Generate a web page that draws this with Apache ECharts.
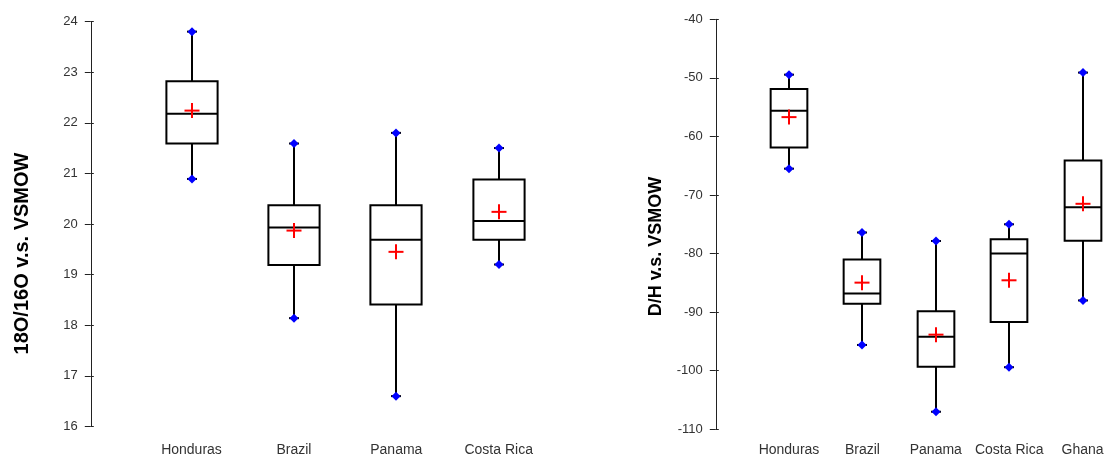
<!DOCTYPE html>
<html>
<head>
<meta charset="utf-8">
<script src="https://cdn.jsdelivr.net/npm/echarts@6/dist/echarts.min.js"></script>
<style>
html,body{margin:0;padding:0;background:#fff;}
#c{width:1104px;height:456px;}
</style>
</head>
<body>
<div id="c"></div>
<script>
// ---- Data ----
const oCategories = ['Honduras', 'Brazil', 'Panama', 'Costa Rica'];
const oMin    = [20.89, 18.14, 16.60, 19.20];
const oQ1     = [21.59, 19.19, 18.41, 19.69];
const oMedian = [22.18, 19.93, 19.69, 20.06];
const oQ3     = [22.82, 20.37, 20.37, 20.88];
const oMax    = [23.80, 21.59, 21.80, 21.50];
const oMean   = [22.24, 19.87, 19.45, 20.24];
const oTicks  = {min: 16, max: 24, interval: 1};

const hCategories = ['Honduras', 'Brazil', 'Panama', 'Costa Rica', 'Ghana'];
const hMin    = [-65.5, -95.6, -107.0, -99.4, -88.0];
const hQ1     = [-61.9, -88.55, -99.3, -91.7, -77.8];
const hMedian = [-55.6, -86.8, -94.2, -80.0, -72.1];
const hQ3     = [-51.9, -81.0, -89.85, -77.56, -64.1];
const hMax    = [-49.45, -76.4, -77.85, -75.0, -49.1];
const hMean   = [-56.7, -84.96, -93.84, -84.56, -71.5];
const hTicks  = {min: -110, max: -40, interval: 10};

function rows(mins, q1s, meds, q3s, maxs, means) {
  return mins.map((v, i) => [i, v, q1s[i], meds[i], q3s[i], maxs[i], means[i]]);
}

function renderBox(params, api) {
  const i = api.value(0);
  const band = api.size([1, 0])[0];
  const half = band * 0.25;
  const pMin = api.coord([i, api.value(1)]);
  const pQ1 = api.coord([i, api.value(2)]);
  const pMed = api.coord([i, api.value(3)]);
  const pQ3 = api.coord([i, api.value(4)]);
  const pMax = api.coord([i, api.value(5)]);
  const pMean = api.coord([i, api.value(6)]);
  const x = Math.round(pMed[0]);
  const lineStyle = {stroke: '#000', lineWidth: 2, fill: null};
  const crossHalf = 7.5;
  const dia = 4.5;
  const diamond = (p) => ({
    type: 'polygon',
    shape: {points: [[x, p[1] - dia], [x + dia, p[1]], [x, p[1] + dia], [x - dia, p[1]]]},
    style: {fill: '#0000ff', stroke: null}
  });
  return {
    type: 'group',
    children: [
      {type: 'line', shape: {x1: x, y1: pMax[1], x2: x, y2: pQ3[1]}, style: lineStyle},
      {type: 'line', shape: {x1: x, y1: pQ1[1], x2: x, y2: pMin[1]}, style: lineStyle},
      {type: 'line', shape: {x1: x - 5, y1: pMax[1], x2: x + 5, y2: pMax[1]}, style: lineStyle},
      {type: 'line', shape: {x1: x - 5, y1: pMin[1], x2: x + 5, y2: pMin[1]}, style: lineStyle},
      {type: 'rect', shape: {x: x - half, y: pQ3[1], width: half * 2, height: pQ1[1] - pQ3[1]},
        style: {stroke: '#000', lineWidth: 2, fill: '#fff'}},
      {type: 'line', shape: {x1: x - half, y1: pMed[1], x2: x + half, y2: pMed[1]}, style: lineStyle},
      diamond(pMax),
      diamond(pMin),
      {type: 'line', shape: {x1: x - crossHalf, y1: pMean[1], x2: x + crossHalf, y2: pMean[1]},
        style: {stroke: '#ff0000', lineWidth: 2}},
      {type: 'line', shape: {x1: x, y1: pMean[1] - crossHalf, x2: x, y2: pMean[1] + crossHalf},
        style: {stroke: '#ff0000', lineWidth: 2}}
    ]
  };
}

const labelFont = 'Liberation Sans, Arial, sans-serif';

function xAxisCfg(cats, gridIndex, margin) {
  return {
    type: 'category', gridIndex: gridIndex, data: cats, boundaryGap: true,
    axisLine: {show: false}, axisTick: {show: false}, splitLine: {show: false},
    axisLabel: {color: '#333', fontSize: 14, fontFamily: labelFont, margin: margin, interval: 0}
  };
}
function yAxisCfg(t, gridIndex, offset) {
  return {
    type: 'value', gridIndex: gridIndex, min: t.min, max: t.max, interval: t.interval,
    offset: offset,
    axisLine: {show: true, lineStyle: {color: '#222', width: 1}},
    axisTick: {show: true, length: 6, lineStyle: {color: '#222', width: 1}},
    splitLine: {show: false},
    axisLabel: {color: '#333', fontSize: 13, fontFamily: labelFont, margin: 13}
  };
}
// inner half of the tick marks (ticks cross the axis line in the reference)
function yAxisInnerTicks(t, gridIndex, offset) {
  return {
    type: 'value', gridIndex: gridIndex, min: t.min, max: t.max, interval: t.interval,
    offset: offset, position: 'left',
    axisLine: {show: false},
    axisTick: {show: true, inside: true, length: 3, lineStyle: {color: '#222', width: 1}},
    splitLine: {show: false},
    axisLabel: {show: false}
  };
}

const chart = echarts.init(document.getElementById('c'), null, {renderer: 'canvas'});
chart.setOption({
  animation: false,
  backgroundColor: '#fff',
  grid: [
    {left: 140.3, top: 21.5, width: 409.6, height: 405, outerBoundsMode: 'none', containLabel: false},
    {left: 752.3, top: 19.3, width: 367, height: 410, outerBoundsMode: 'none', containLabel: false}
  ],
  xAxis: [xAxisCfg(oCategories, 0, 17), xAxisCfg(hCategories, 1, 14)],
  yAxis: [
    yAxisCfg(oTicks, 0, 49.5), yAxisCfg(hTicks, 1, 36.5),
    yAxisInnerTicks(oTicks, 0, 49.5), yAxisInnerTicks(hTicks, 1, 36.5)
  ],
  series: [
    {type: 'custom', xAxisIndex: 0, yAxisIndex: 0, renderItem: renderBox,
      encode: {x: 0, y: [1, 2, 3, 4, 5, 6]},
      data: rows(oMin, oQ1, oMedian, oQ3, oMax, oMean)},
    {type: 'custom', xAxisIndex: 1, yAxisIndex: 1, renderItem: renderBox,
      encode: {x: 0, y: [1, 2, 3, 4, 5, 6]},
      data: rows(hMin, hQ1, hMedian, hQ3, hMax, hMean)}
  ],
  graphic: [
    {type: 'text', x: 22, y: 253.5, rotation: Math.PI / 2,
      style: {text: '18O/16O v.s. VSMOW', font: 'bold 20px ' + labelFont, fill: '#000',
        textAlign: 'center', textVerticalAlign: 'middle'}},
    {type: 'text', x: 656.5, y: 246.5, rotation: Math.PI / 2,
      style: {text: 'D/H v.s. VSMOW', font: 'bold 18px ' + labelFont, fill: '#000',
        textAlign: 'center', textVerticalAlign: 'middle'}}
  ]
});
</script>
</body>
</html>
